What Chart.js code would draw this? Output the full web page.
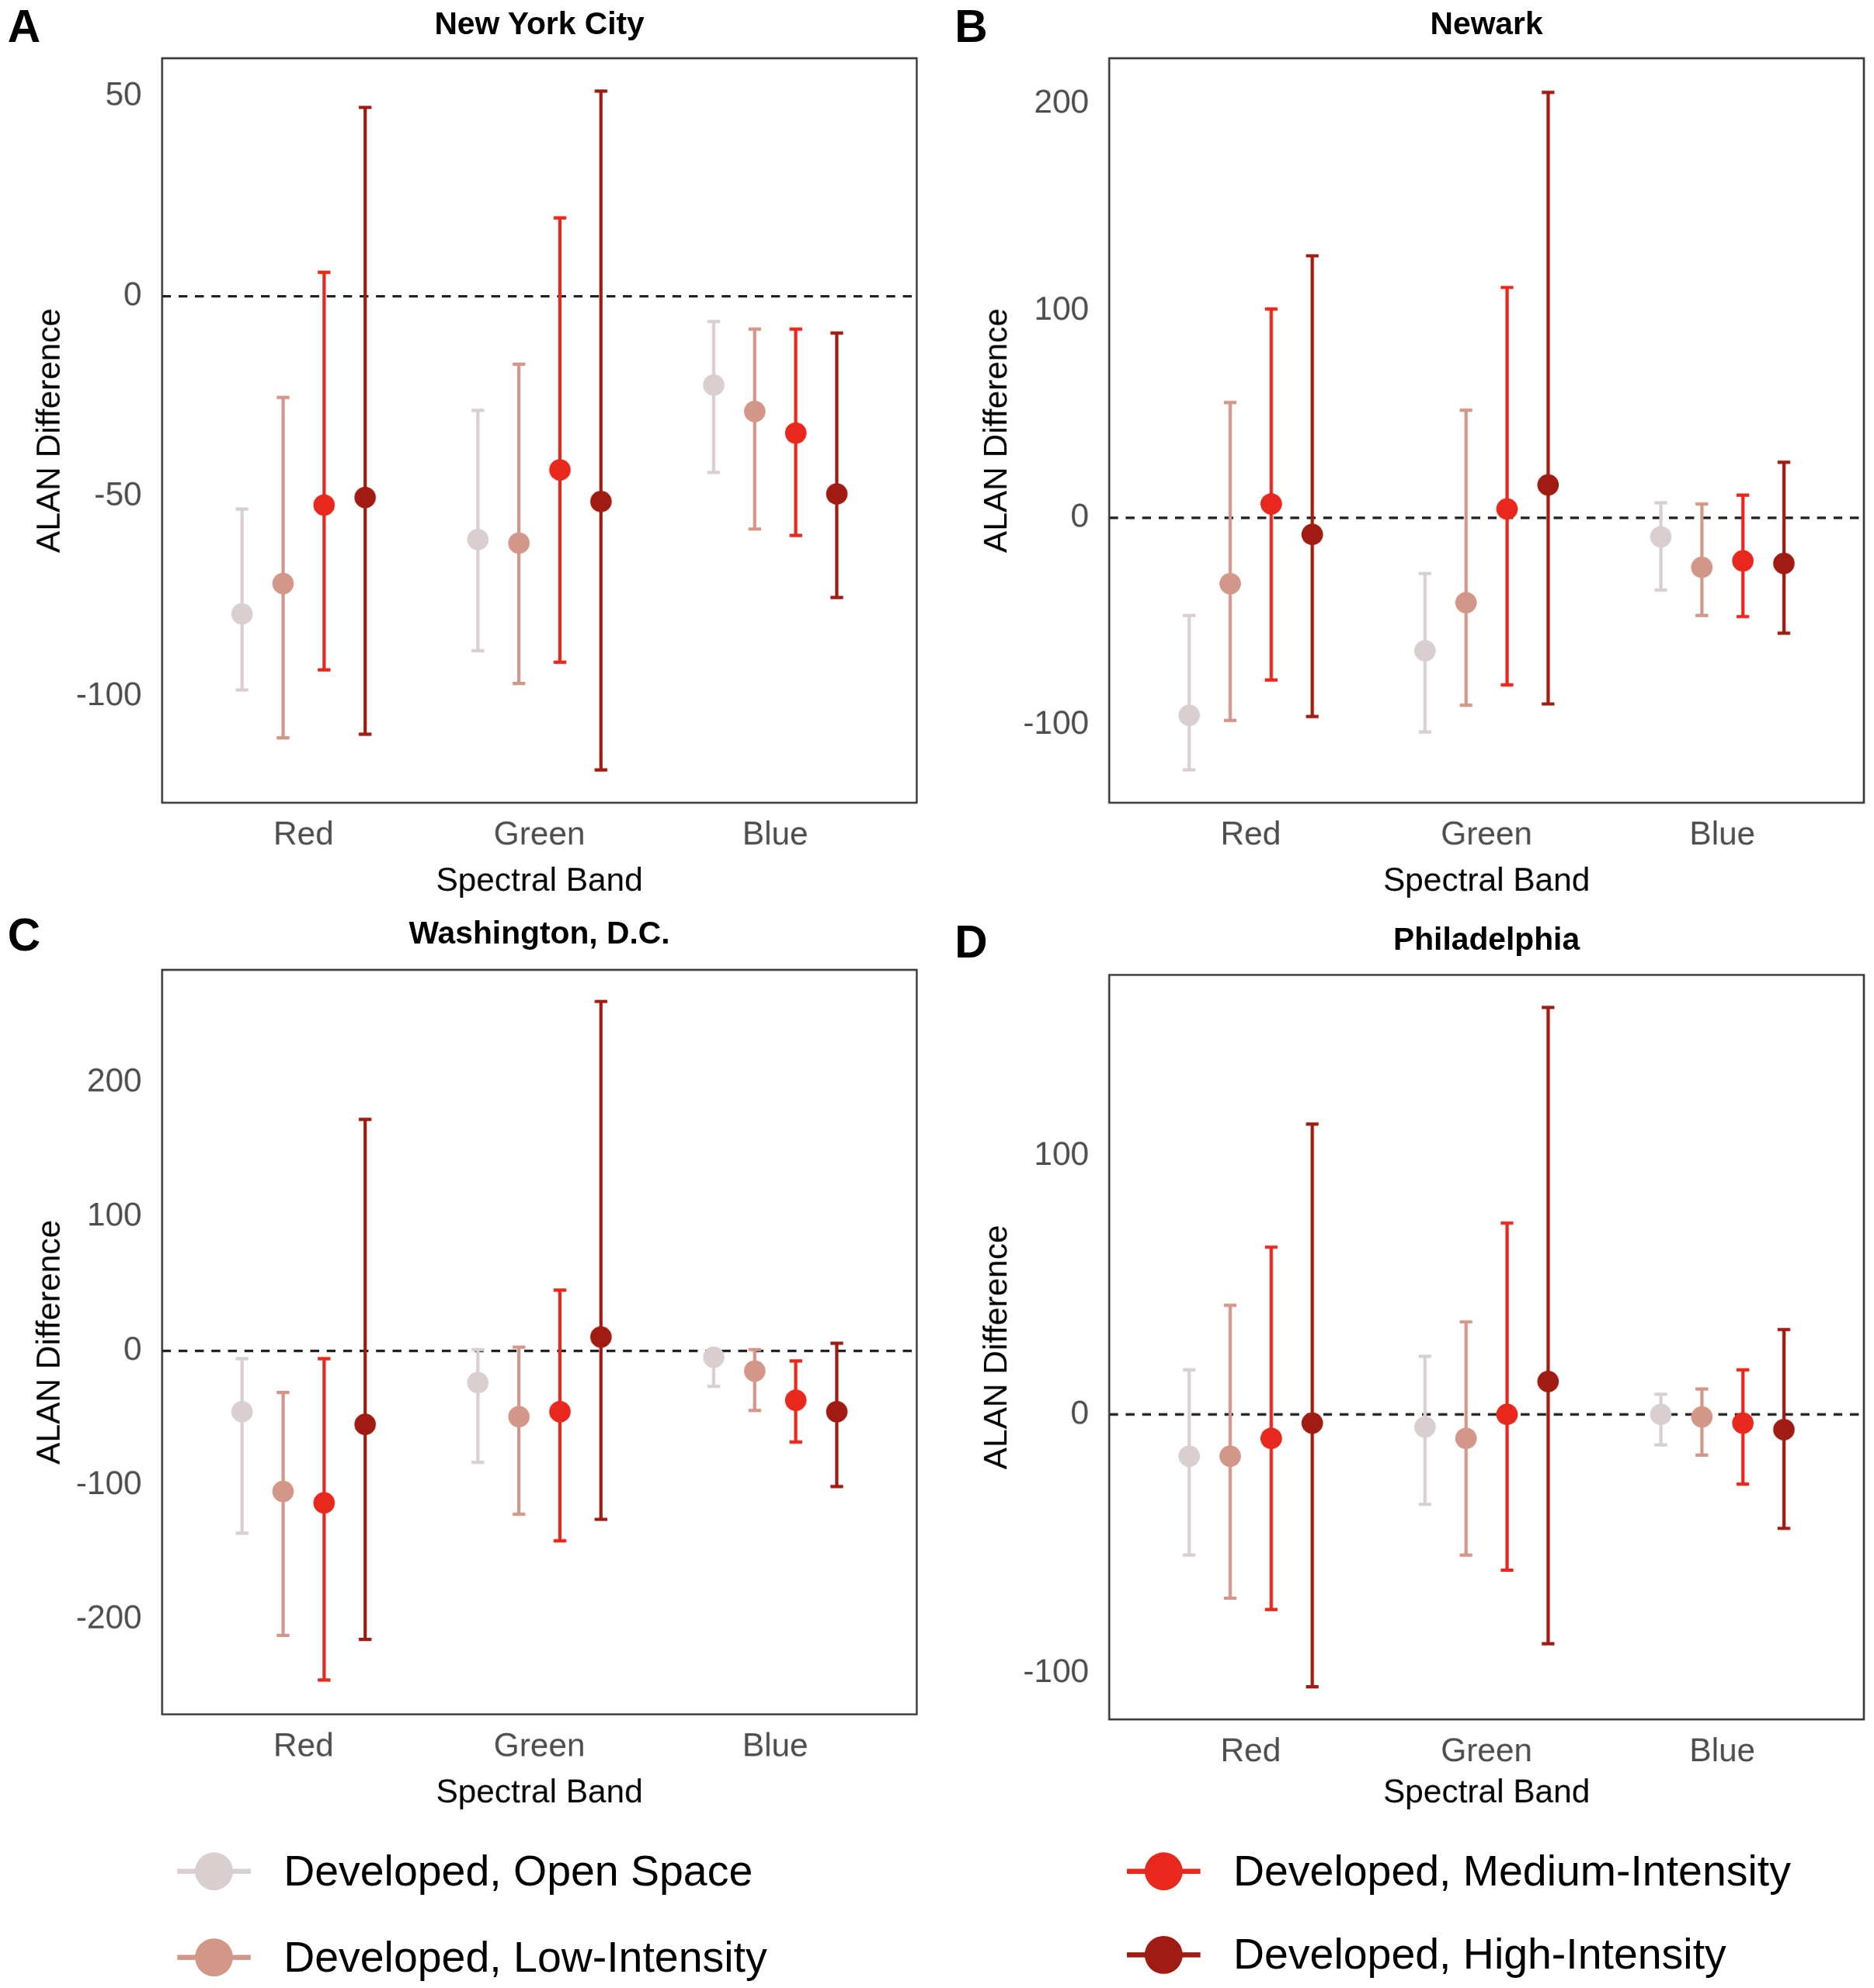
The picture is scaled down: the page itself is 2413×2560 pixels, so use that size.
<!DOCTYPE html>
<html>
<head>
<meta charset="utf-8">
<script src="https://cdn.jsdelivr.net/npm/chart.js@4"></script>
<style>
  body { margin: 0; background: #fff; font-family: "Liberation Sans", Arial, sans-serif; }
  #wrap { position: absolute; left: 0; top: 0; width: 1480px; height: 1570px; transform: scale(1.6304); transform-origin: 0 0; }
  .panel { position: absolute; }
  .letter { position: absolute; font-weight: bold; font-size: 36px; }
  .title { position: absolute; font-weight: bold; font-size: 25px; text-align: center; width: 596px; }
  .leg { position: absolute; font-size: 34px; display: flex; align-items: center; }
  .sw { position: relative; width: 58px; height: 30px; margin-right: 26px; }
  .sw .ln { position: absolute; left: 0; top: 13px; width: 58px; height: 4px; }
  .sw .dt { position: absolute; left: 14px; top: 0; width: 30px; height: 30px; border-radius: 50%; }
</style>
</head>
<body>
<div id="wrap"></div>
<script>
const bands = ["Red", "Green", "Blue"];
const classes = ["Developed, Open Space", "Developed, Low-Intensity", "Developed, Medium-Intensity", "Developed, High-Intensity"];
const colors = ["#dacfd0", "#d3978a", "#e8281c", "#a01c12"];

// NYC: [mean, low, high] per band, per class
const nycOpen = [[-79.4, -98.4, -53.2], [-60.8, -88.6, -28.5], [-22.2, -44, -6.3]];
const nycLow = [[-71.8, -110.4, -25.3], [-61.7, -96.8, -17], [-28.8, -58.2, -8.2]];
const nycMed = [[-52.2, -93.4, 6], [-43.4, -91.5, 19.6], [-34.2, -59.8, -8.2]];
const nycHigh = [[-50.3, -109.5, 47.2], [-51.3, -118.4, 51.3], [-49.4, -75.3, -9.2]];

const newarkOpen = [[-95.4, -121.7, -47.1], [-64.2, -103.4, -26.9], [-9.2, -34.9, 7.3]];
const newarkLow = [[-31.8, -97.9, 55.7], [-41, -90.5, 52], [-23.9, -47.1, 6.7]];
const newarkMed = [[6.7, -78.3, 100.9], [4.3, -80.7, 111.3], [-20.8, -47.7, 11]];
const newarkHigh = [[-8, -96, 126.6], [15.9, -89.9, 205.5], [-22, -55.7, 26.9]];

const dcOpen = [[-45.3, -135.8, -5.7], [-23.6, -83, 1], [-4.7, -26.4, 1]];
const dcLow = [[-104.7, -212, -31], [-49, -121.7, 2.8], [-15, -44.3, 1]];
const dcMed = [[-113.2, -245.3, -5.7], [-45.3, -141.5, 45.3], [-36.8, -67.9, -7.5]];
const dcHigh = [[-54.7, -215, 172.6], [10.4, -125.5, 260.4], [-45.3, -101, 5.7]];

const phlOpen = [[-16.2, -54.4, 17.2], [-4.9, -34.8, 22.5], [0, -11.8, 7.8]];
const phlLow = [[-16.2, -71.1, 42.2], [-9.3, -54.4, 35.8], [-1, -15.7, 9.8]];
const phlMed = [[-9.3, -75.5, 64.7], [0, -60.3, 74], [-3.4, -27, 17.2]];
const phlHigh = [[-3.4, -105.4, 112.3], [12.7, -88.7, 157.4], [-5.9, -44.1, 32.8]];

const nycTicks = [-100, -50, 0, 50];
const newarkTicks = [-100, 0, 100, 200];
const dcTicks = [-200, -100, 0, 100, 200];
const phlTicks = [-100, 0, 100];

const dodge = [-0.261, -0.087, 0.087, 0.261];

const panels = [
  { letter: "A", title: "New York City", left: 0, top: 0, titleY: 4, plotTop: 46, plotBottom: 634, data: [nycOpen, nycLow, nycMed, nycHigh], ticks: nycTicks, min: -126.6, max: 59.5 },
  { letter: "B", title: "Newark", left: 748, top: 0, titleY: 4, plotTop: 46, plotBottom: 634, data: [newarkOpen, newarkLow, newarkMed, newarkHigh], ticks: newarkTicks, min: -137.6, max: 222 },
  { letter: "C", title: "Washington, D.C.", left: 0, top: 720, titleY: 2, plotTop: 46, plotBottom: 634, data: [dcOpen, dcLow, dcMed, dcHigh], ticks: dcTicks, min: -270.8, max: 284 },
  { letter: "D", title: "Philadelphia", left: 748, top: 720, titleY: 7, plotTop: 50, plotBottom: 638, data: [phlOpen, phlLow, phlMed, phlHigh], ticks: phlTicks, min: -118, max: 170 }
];

const wrap = document.getElementById("wrap");

const framePlugin = {
  id: "frame",
  beforeDatasetsDraw(chart) {
    const c = chart.ctx, a = chart.chartArea;
    const y = chart.scales.y.getPixelForValue(0);
    c.save();
    c.strokeStyle = "#222"; c.lineWidth = 2; c.setLineDash([7, 6]);
    c.beginPath(); c.moveTo(a.left, y); c.lineTo(a.right, y); c.stroke();
    c.setLineDash([]);
    chart.data.datasets.forEach(ds => {
      c.strokeStyle = ds.barColor; c.lineWidth = 2.6;
      ds.data.forEach(p => {
        const x = chart.scales.x.getPixelForValue(p.x);
        const y1 = chart.scales.y.getPixelForValue(p.lo);
        const y2 = chart.scales.y.getPixelForValue(p.hi);
        c.beginPath();
        c.moveTo(x, y1); c.lineTo(x, y2);
        c.moveTo(x - 5, y1); c.lineTo(x + 5, y1);
        c.moveTo(x - 5, y2); c.lineTo(x + 5, y2);
        c.stroke();
      });
    });
    c.restore();
  },
  afterDraw(chart) {
    const c = chart.ctx, a = chart.chartArea;
    c.save(); c.strokeStyle = "#333"; c.lineWidth = 1.5;
    c.strokeRect(a.left, a.top, a.right - a.left, a.bottom - a.top);
    c.restore();
  }
};

panels.forEach(p => {
  const div = document.createElement("div");
  div.className = "panel";
  div.style.left = p.left + "px"; div.style.top = p.top + "px";
  div.style.width = "740px"; div.style.height = "712px";
  div.innerHTML = '<canvas></canvas><div class="letter" style="left:6px;top:' + (p.titleY - 4) + 'px">' + p.letter + '</div>' +
    '<div class="title" style="left:128px;top:' + p.titleY + 'px">' + p.title + '</div>';
  wrap.appendChild(div);

  const datasets = p.data.map((series, k) => ({
    label: classes[k],
    data: series.map((v, i) => ({ x: i + 1 + dodge[k], y: v[0], lo: v[1], hi: v[2] })),
    backgroundColor: colors[k],
    borderColor: colors[k],
    barColor: colors[k],
    pointRadius: 8.5,
    pointHoverRadius: 8.5,
    borderWidth: 0
  }));

  new Chart(div.querySelector("canvas"), {
    type: "scatter",
    data: { datasets },
    plugins: [framePlugin],
    options: {
      devicePixelRatio: 2,
      responsive: true,
      maintainAspectRatio: false,
      animation: false,
      layout: { padding: { top: p.plotTop, right: 16, left: 0, bottom: 0 } },
      plugins: { legend: { display: false }, tooltip: { enabled: false } },
      scales: {
        x: {
          type: "linear", min: 0.4, max: 3.6,
          grid: { display: false }, border: { display: false },
          afterBuildTicks: s => { s.ticks = [1, 2, 3].map(v => ({ value: v })); },
          afterFit: s => { s.height = 712 - p.plotBottom; },
          ticks: { callback: v => bands[v - 1], color: "#4d4d4d", font: { size: 26, family: "Liberation Sans" }, padding: 2 },
          title: { display: true, text: "Spectral Band", color: "#000", font: { size: 26, family: "Liberation Sans" }, padding: 0 }
        },
        y: {
          min: p.min, max: p.max,
          grid: { display: false }, border: { display: false },
          afterBuildTicks: s => { s.ticks = p.ticks.map(v => ({ value: v })); },
          afterFit: s => { s.width = 128; },
          ticks: { color: "#4d4d4d", font: { size: 26, family: "Liberation Sans" }, padding: 8 },
          title: { display: true, text: "ALAN Difference", color: "#000", font: { size: 26, family: "Liberation Sans" }, padding: { top: 24, bottom: 0 } }
        }
      }
    }
  });
});

const legPos = [[140, 1458], [140, 1526], [890, 1458], [890, 1524]];
const legOrder = [0, 1, 2, 3];
legOrder.forEach(k => {
  const d = document.createElement("div");
  d.className = "leg";
  d.style.left = legPos[k][0] + "px"; d.style.top = legPos[k][1] + "px";
  d.innerHTML = '<div class="sw"><div class="ln" style="background:' + colors[k] + '"></div><div class="dt" style="background:' + colors[k] + '"></div></div>' + classes[k];
  wrap.appendChild(d);
});
</script>
</body>
</html>
